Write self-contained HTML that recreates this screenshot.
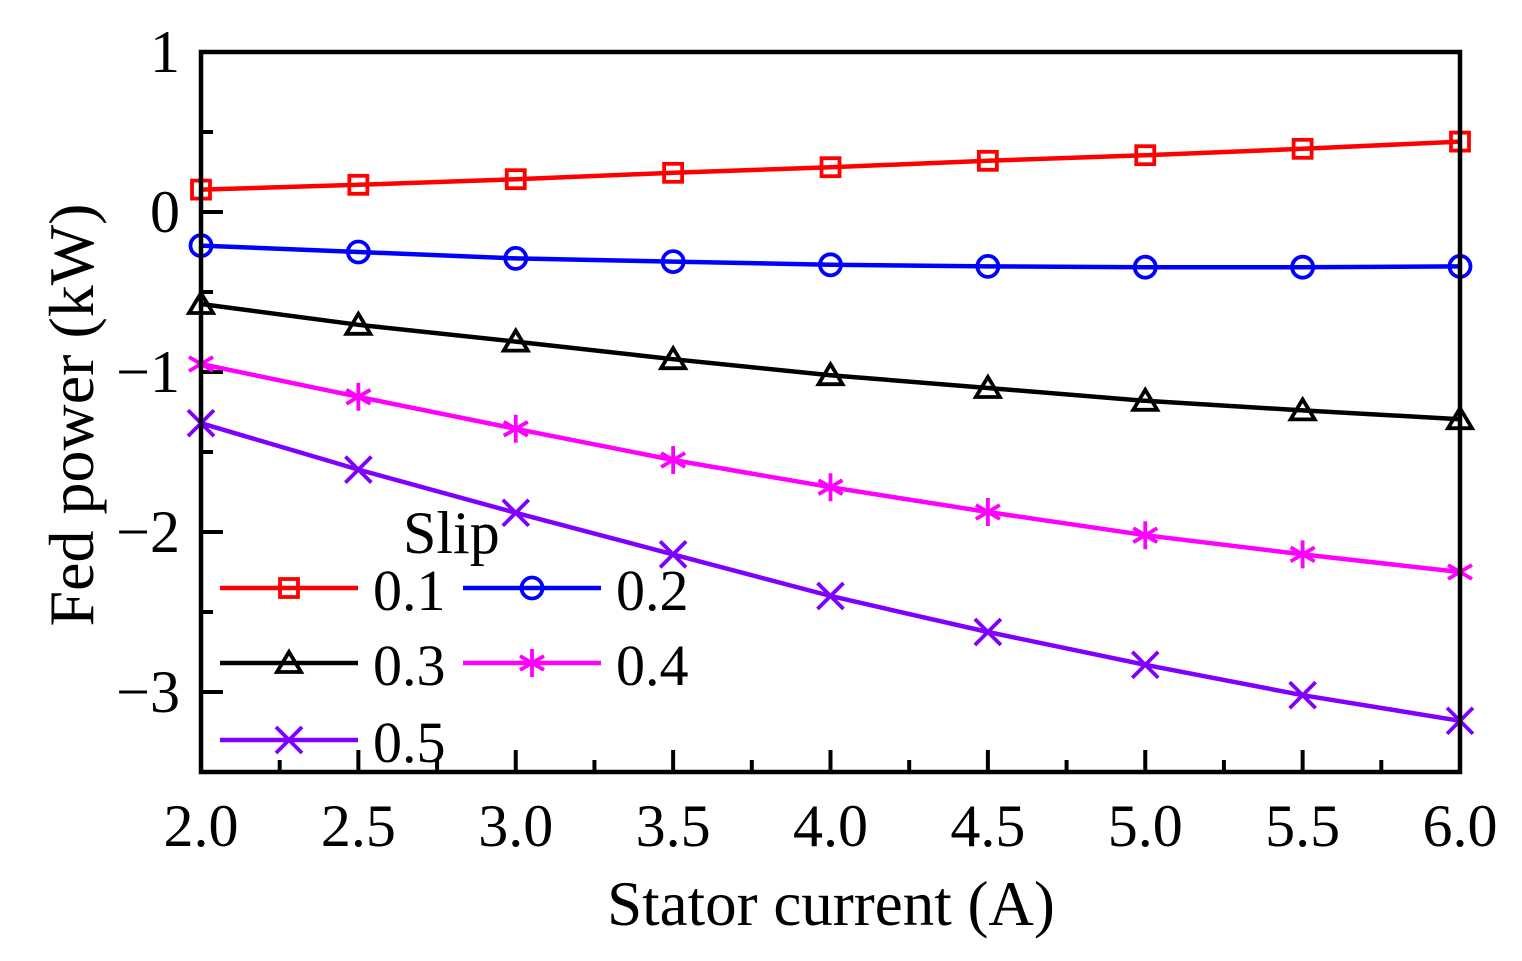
<!DOCTYPE html>
<html><head><meta charset="utf-8">
<style>
html,body{margin:0;padding:0;background:#fff;}
svg{display:block;font-family:"Liberation Serif",serif;}
</style></head>
<body>
<svg id="chart" width="1522" height="961" viewBox="0 0 1522 961" xmlns="http://www.w3.org/2000/svg"></svg>
<script>
const xCats = [2.0, 2.5, 3.0, 3.5, 4.0, 4.5, 5.0, 5.5, 6.0];
const xTickLabels = ["2.0","2.5","3.0","3.5","4.0","4.5","5.0","5.5","6.0"];
const yTicks = [1, 0, -1, -2, -3];
const yTickLabels = ["1","0","\u22121","\u22122","\u22123"];
const seriesNames = ["0.1","0.2","0.3","0.4","0.5"];
const s01 = [0.14, 0.17, 0.205, 0.245, 0.28, 0.32, 0.355, 0.395, 0.44];
const s02 = [-0.21, -0.25, -0.29, -0.31, -0.33, -0.34, -0.345, -0.345, -0.34];
const s03 = [-0.575, -0.705, -0.81, -0.92, -1.02, -1.10, -1.18, -1.24, -1.295];
const s04 = [-0.95, -1.155, -1.355, -1.55, -1.72, -1.875, -2.02, -2.14, -2.25];
const s05 = [-1.32, -1.61, -1.88, -2.14, -2.40, -2.625, -2.83, -3.02, -3.18];

const svg = document.getElementById('chart');
const NS = 'http://www.w3.org/2000/svg';
const L=201, R=1460, T=52, B=772;
const X = v => L + (v-2)/4*(R-L);
const Y = v => T + (1-v)/4.5*(B-T);
function mk(tag, attrs, parent){const e=document.createElementNS(NS,tag);for(const k in attrs)e.setAttribute(k,attrs[k]);(parent||svg).appendChild(e);return e;}

const axisG = mk('g',{});


for(let v=2;v<=6.001;v+=0.25){
  const major = Math.abs(v*2-Math.round(v*2))<1e-6;
  const t=mk('line',{x1:X(v),x2:X(v),y1:B,y2:B-(major?22:12),stroke:'#000','stroke-width':4},axisG);
  
  
}
for(let v=1;v>=-3.5;v-=0.5){
  const major = Math.abs(v-Math.round(v))<1e-6;
  const t=mk('line',{x1:L,x2:L+(major?22:12),y1:Y(v),y2:Y(v),stroke:'#000','stroke-width':4},axisG);
  
  
}
xCats.forEach((v,i)=>{
  const t=mk('text',{x:X(v),y:846,'font-size':60,'text-anchor':'middle'},axisG);
  t.textContent=xTickLabels[i];
  
  
});
yTicks.forEach((v,i)=>{
  const t=mk('text',{x:180,y:Y(v)+20,'font-size':60,'text-anchor':'end'},axisG);
  t.textContent=yTickLabels[i];
  
  
});
const xt=mk('text',{x:831,y:925,'font-size':63,'text-anchor':'middle'});
xt.textContent='Stator current (A)';


const yt=mk('text',{x:0,y:0,'font-size':64,'text-anchor':'middle',transform:'translate(93,415) rotate(-90)'});
yt.textContent='Fed power (kW)';



const colors=['#ff0000','#0000ff','#000000','#ff00ff','#8000ff'];
const kinds=['square','circle','triangle','star','x'];
function marker(g,kind,x,y,c){
  const sw=3.8;
  if(kind==='square') mk('rect',{x:x-9,y:y-9,width:18,height:18,fill:'none',stroke:c,'stroke-width':sw},g);
  else if(kind==='circle') mk('circle',{cx:x,cy:y,r:10.5,fill:'none',stroke:c,'stroke-width':sw},g);
  else if(kind==='triangle') mk('polygon',{points:`${x},${y-11} ${x+12},${y+9} ${x-12},${y+9}`,fill:'none',stroke:c,'stroke-width':sw},g);
  else if(kind==='star'){
    mk('path',{d:`M${x},${y-14}V${y+14}M${x-12},${y-7}L${x+12},${y+7}M${x-12},${y+7}L${x+12},${y-7}`,stroke:c,'stroke-width':sw},g);
  } else mk('path',{d:`M${x-13},${y-13}L${x+13},${y+13}M${x-13},${y+13}L${x+13},${y-13}`,stroke:c,'stroke-width':sw},g);
}
const data=[s01,s02,s03,s04,s05];
data.forEach((arr,si)=>{
  const g=mk('g',{});
  
  
  mk('polyline',{points:arr.map((v,i)=>X(xCats[i])+','+Y(v)).join(' '),fill:'none',stroke:colors[si],'stroke-width':4.5},g);
  arr.forEach((v,i)=>marker(g,kinds[si],X(xCats[i]),Y(v),colors[si]));
});

const fr=mk('rect',{x:L,y:T,width:R-L,height:B-T,fill:'none',stroke:'#000','stroke-width':4.5});



const lg=mk('g',{});


const lt=mk('text',{x:403,y:553,'font-size':60},lg);
lt.textContent='Slip';
const pos=[[220,588],[463,588],[220,663],[463,663],[220,740]];
pos.forEach((p,i)=>{
  const e=mk('g',{},lg);
  
  
  mk('line',{x1:p[0],x2:p[0]+138,y1:p[1],y2:p[1],stroke:colors[i],'stroke-width':4.5},e);
  marker(e,kinds[i],p[0]+69,p[1],colors[i]);
  const t=mk('text',{x:p[0]+153,y:p[1]+22,'font-size':58},e);
  t.textContent=seriesNames[i];
});
</script>
</body></html>
